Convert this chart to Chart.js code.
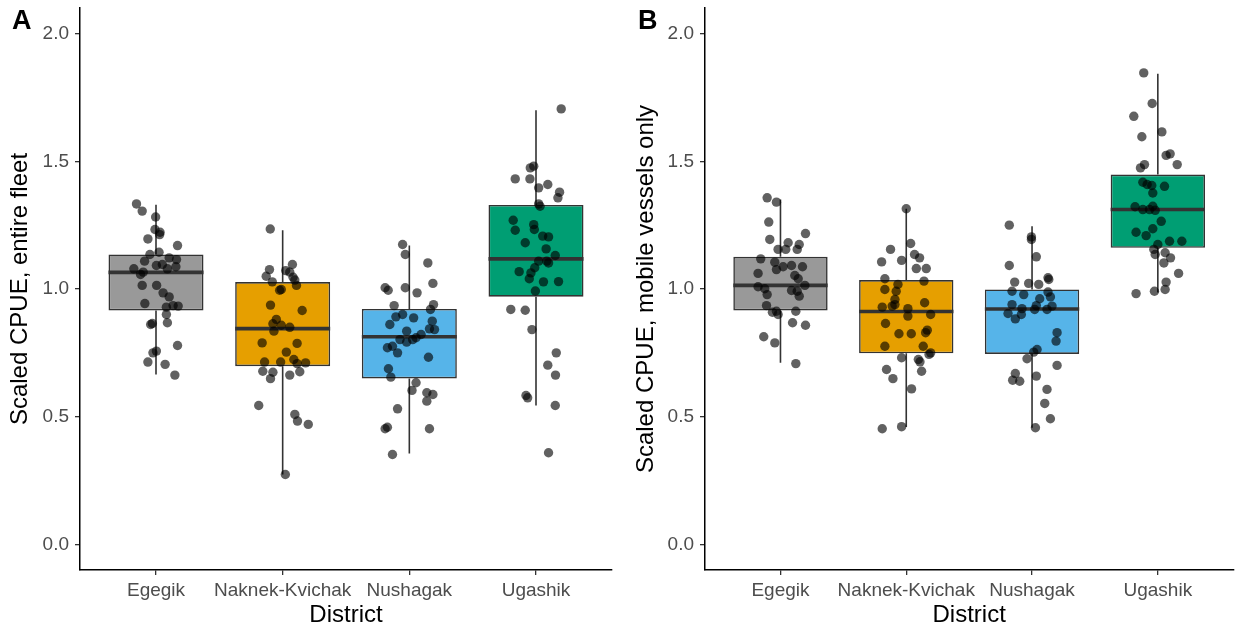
<!DOCTYPE html>
<html>
<head>
<meta charset="utf-8">
<script src="https://cdn.jsdelivr.net/npm/chart.js@4"></script>
<style>
  body { margin: 0; background: #fff; }
  .row { display: flex; width: 1238px; height: 632px; }
  #panelA { position: relative; width: 626px; height: 632px; }
  #panelB { position: relative; width: 612px; height: 632px; }
</style>
</head>
<body>
<div class="row">
  <div id="panelA"><canvas id="fleet"></canvas></div>
  <div id="panelB"><canvas id="mobile"></canvas></div>
</div>
<script>
const districts = ['Egegik', 'Naknek-Kvichak', 'Nushagak', 'Ugashik'];
const yTicks = [0, 0.5, 1.0, 1.5, 2.0];
const boxColors = ['#999999', '#E69F00', '#56B4E9', '#009E73'];

// box stats per district: [lower whisker, q1, median, q3, upper whisker]
const fleetStats = [
  [0.665, 0.916, 1.065, 1.135, 1.330],
  [0.274, 0.698, 0.845, 1.027, 1.230],
  [0.356, 0.650, 0.813, 0.922, 1.170],
  [0.544, 0.970, 1.118, 1.329, 1.700]
];
const mobileStats = [
  [0.711, 0.916, 1.014, 1.126, 1.350],
  [0.460, 0.748, 0.912, 1.035, 1.314],
  [0.457, 0.746, 0.922, 0.998, 1.246],
  [0.986, 1.161, 1.311, 1.448, 1.843]
];

// scaled CPUE per vessel: [jitter offset, value]
const fleetEgegik = [[-0.154,1.333],[-0.109,1.305],[-0.003,1.282],[-0.008,1.233],[0.032,1.222],[0.029,1.213],[-0.064,1.196],[0.170,1.170],[-0.048,1.135],[0.024,1.144],[-0.090,1.109],[0.104,1.122],[0.162,1.115],[0.003,1.092],[0.050,1.096],[0.090,1.079],[0.157,1.087],[-0.175,1.079],[-0.122,1.057],[-0.101,1.066],[-0.109,1.014],[0.005,1.014],[0.056,0.985],[0.104,0.969],[-0.088,0.943],[0.082,0.929],[0.135,0.935],[0.175,0.933],[0.082,0.900],[-0.042,0.861],[-0.029,0.865],[0.090,0.868],[0.170,0.779],[-0.024,0.750],[0.003,0.757],[-0.064,0.714],[0.072,0.705],[0.149,0.663]];
const fleetNaknek = [[-0.098,1.235],[0.077,1.096],[-0.104,1.076],[0.024,1.072],[0.056,1.066],[-0.130,1.050],[0.082,1.046],[0.096,1.035],[-0.082,1.028],[0.109,1.014],[-0.011,0.998],[-0.024,0.995],[-0.096,0.937],[0.154,0.916],[-0.050,0.881],[-0.077,0.864],[-0.011,0.858],[0.056,0.850],[-0.069,0.835],[-0.162,0.789],[0.114,0.787],[0.029,0.753],[0.088,0.724],[-0.143,0.714],[-0.016,0.714],[0.114,0.708],[0.181,0.711],[-0.157,0.678],[-0.077,0.674],[0.135,0.676],[-0.096,0.649],[0.056,0.663],[-0.189,0.544],[0.096,0.509],[0.117,0.483],[0.202,0.470],[0.021,0.274]];
const fleetNushagak = [[-0.053,1.174],[-0.032,1.135],[0.146,1.102],[-0.191,1.005],[-0.167,0.995],[-0.032,1.005],[0.186,1.022],[0.061,0.985],[-0.120,0.935],[0.191,0.939],[0.167,0.920],[-0.053,0.900],[-0.106,0.891],[0.034,0.887],[0.181,0.874],[-0.154,0.861],[0.159,0.844],[0.199,0.841],[-0.021,0.835],[0.093,0.822],[-0.074,0.802],[-0.021,0.792],[0.026,0.802],[0.053,0.809],[-0.133,0.776],[-0.173,0.770],[-0.093,0.750],[0.151,0.733],[-0.165,0.688],[-0.146,0.655],[0.053,0.633],[0.021,0.603],[0.138,0.594],[0.186,0.587],[0.138,0.561],[-0.093,0.531],[-0.191,0.453],[-0.173,0.459],[0.159,0.453],[-0.133,0.352]];
const fleetUgashik = [[0.199,1.705],[-0.045,1.474],[-0.018,1.481],[-0.164,1.431],[-0.048,1.431],[0.021,1.396],[0.093,1.409],[0.186,1.379],[0.173,1.357],[0.021,1.333],[0.032,1.324],[-0.180,1.269],[-0.164,1.230],[-0.018,1.252],[-0.013,1.233],[0.053,1.207],[0.099,1.204],[-0.085,1.181],[0.080,1.157],[0.152,1.131],[0.021,1.109],[0.099,1.102],[0.085,1.109],[-0.010,1.083],[-0.133,1.068],[-0.040,1.063],[-0.053,1.040],[0.059,1.028],[0.178,1.029],[-0.005,0.992],[-0.199,0.920],[-0.085,0.917],[-0.032,0.841],[0.160,0.750],[0.093,0.702],[0.154,0.663],[-0.079,0.583],[-0.066,0.574],[0.152,0.544],[0.099,0.359]];

const mobileEgegik = [[-0.106,1.357],[-0.032,1.340],[-0.093,1.262],[0.199,1.217],[-0.085,1.194],[0.061,1.181],[0.149,1.174],[-0.019,1.155],[0.042,1.155],[0.133,1.155],[-0.157,1.118],[-0.045,1.105],[0.021,1.087],[0.088,1.092],[0.175,1.087],[-0.032,1.076],[-0.178,1.061],[0.114,1.053],[0.141,1.040],[0.194,1.014],[-0.178,1.009],[-0.125,1.001],[-0.106,0.978],[0.088,0.994],[0.133,0.991],[0.149,0.972],[-0.111,0.935],[-0.064,0.909],[-0.032,0.913],[-0.019,0.900],[0.122,0.913],[0.096,0.868],[0.199,0.858],[-0.133,0.813],[-0.045,0.789],[0.122,0.708]];
const mobileNaknek = [[0.000,1.314],[0.035,1.178],[-0.125,1.155],[0.066,1.135],[-0.196,1.106],[-0.037,1.112],[0.106,1.122],[0.080,1.080],[0.159,1.080],[-0.170,1.040],[-0.066,1.018],[0.141,1.031],[-0.170,0.998],[-0.080,0.991],[-0.090,0.959],[0.146,0.946],[-0.191,0.929],[-0.112,0.933],[-0.090,0.939],[0.013,0.923],[0.013,0.894],[0.194,0.900],[-0.165,0.865],[-0.058,0.825],[0.040,0.825],[0.154,0.829],[0.167,0.839],[-0.170,0.776],[0.135,0.776],[0.194,0.750],[0.181,0.744],[-0.037,0.731],[0.096,0.724],[0.109,0.715],[-0.157,0.685],[0.122,0.678],[-0.106,0.649],[0.042,0.609],[-0.191,0.453],[-0.037,0.461]];
const mobileNushagak = [[-0.181,1.250],[-0.005,1.204],[-0.005,1.194],[0.034,1.126],[-0.181,1.092],[0.127,1.044],[0.133,1.037],[-0.138,1.027],[-0.027,1.022],[0.053,1.018],[-0.159,0.991],[-0.066,0.978],[0.127,0.988],[0.061,0.962],[0.146,0.969],[-0.159,0.939],[0.034,0.935],[0.159,0.933],[-0.080,0.923],[0.119,0.920],[0.021,0.920],[-0.191,0.904],[-0.085,0.900],[-0.133,0.883],[0.199,0.829],[0.191,0.796],[0.040,0.763],[0.013,0.753],[-0.040,0.727],[0.199,0.701],[-0.133,0.669],[-0.154,0.643],[-0.098,0.639],[0.034,0.659],[0.119,0.607],[0.101,0.552],[0.146,0.492],[0.027,0.457]];
const mobileUgashik = [[-0.112,1.846],[-0.045,1.726],[-0.191,1.676],[0.032,1.615],[-0.127,1.596],[0.066,1.523],[0.098,1.529],[0.154,1.487],[-0.138,1.474],[-0.106,1.487],[-0.119,1.418],[-0.085,1.409],[-0.048,1.405],[0.053,1.402],[-0.040,1.376],[-0.181,1.322],[-0.119,1.311],[-0.040,1.324],[-0.021,1.308],[-0.066,1.311],[0.027,1.265],[-0.040,1.236],[-0.173,1.222],[-0.093,1.209],[0.093,1.187],[0.191,1.187],[0.000,1.174],[-0.032,1.155],[0.058,1.142],[-0.021,1.135],[0.101,1.122],[0.048,1.102],[0.165,1.061],[0.066,1.027],[0.058,0.998],[-0.027,0.991],[-0.173,0.982]];

const fontFamily = '"Liberation Sans", Arial, Helvetica, sans-serif';

// whiskers under the boxes, medians on top of them (before the points)
const boxPlotLines = {
  id: 'boxPlotLines',
  beforeDatasetsDraw(chart) {
    const stats = chart.options.plugins.boxPlotLines.stats;
    const xs = chart.scales.x, ys = chart.scales.y;
    const ctx = chart.ctx;
    ctx.save();
    ctx.strokeStyle = '#333333';
    ctx.lineWidth = 1.6;
    stats.forEach((s, i) => {
      const x = xs.getPixelForValue(i + 1);
      ctx.beginPath();
      ctx.moveTo(x, ys.getPixelForValue(s[0]));
      ctx.lineTo(x, ys.getPixelForValue(s[1]));
      ctx.moveTo(x, ys.getPixelForValue(s[3]));
      ctx.lineTo(x, ys.getPixelForValue(s[4]));
      ctx.stroke();
    });
    ctx.restore();
  },
  afterDatasetDraw(chart, args) {
    if (args.meta.type !== 'bar') return;
    const stats = chart.options.plugins.boxPlotLines.stats;
    const ys = chart.scales.y;
    const ctx = chart.ctx;
    ctx.save();
    ctx.strokeStyle = '#333333';
    ctx.lineWidth = 3.6;
    args.meta.data.forEach((bar, i) => {
      const y = ys.getPixelForValue(stats[i][2]);
      ctx.beginPath();
      ctx.moveTo(bar.x - bar.width / 2, y);
      ctx.lineTo(bar.x + bar.width / 2, y);
      ctx.stroke();
    });
    ctx.restore();
  },
  afterDraw(chart) {
    const ctx = chart.ctx;
    ctx.save();
    ctx.font = 'bold 27px ' + fontFamily;
    ctx.fillStyle = '#000';
    ctx.textBaseline = 'alphabetic';
    ctx.fillText(chart.options.plugins.boxPlotLines.tag, 12, 29);
    ctx.restore();
  }
};

function noEdgePadding(scale) {
  scale.paddingTop = 0;
  scale.paddingBottom = 0;
  scale.paddingLeft = 0;
  scale.paddingRight = 0;
}

function makePanel(canvasId, tag, yTitle, stats, groups, axisWidth, rightPad) {
  const points = [];
  groups.forEach((g, i) => g.forEach(p => points.push({ x: i + 1 + p[0], y: p[1] })));

  const axisTicks = {
    display: true,
    offset: false,
    drawOnChartArea: false,
    drawTicks: true,
    tickLength: 5,
    color: '#333333',
    lineWidth: 1.3
  };

  new Chart(document.getElementById(canvasId), {
    type: 'bar',
    data: {
      datasets: [
        {
          type: 'scatter',
          order: 0,
          data: points,
          pointRadius: 4.7,
          pointHoverRadius: 4.7,
          pointBorderWidth: 0,
          pointBackgroundColor: 'rgba(0,0,0,0.62)',
          backgroundColor: 'rgba(0,0,0,0.62)'
        },
        {
          type: 'bar',
          order: 1,
          data: stats.map((s, i) => ({ x: i + 1, y: [s[1], s[3]] })),
          backgroundColor: boxColors,
          borderColor: '#333333',
          borderWidth: 1.6,
          borderSkipped: false,
          barPercentage: 0.75,
          categoryPercentage: 1.0
        }
      ]
    },
    options: {
      responsive: true,
      maintainAspectRatio: false,
      animation: false,
      events: [],
      layout: { padding: { left: 0, top: 8, right: rightPad, bottom: 0 } },
      plugins: {
        legend: { display: false },
        tooltip: { enabled: false },
        boxPlotLines: { stats: stats, tag: tag }
      },
      scales: {
        x: {
          type: 'linear',
          offset: false,
          min: 0.4,
          max: 4.6,
          afterBuildTicks: scale => { scale.ticks = districts.map((d, i) => ({ value: i + 1 })); },
          afterFit: scale => { scale.height = 62; noEdgePadding(scale); },
          ticks: {
            callback: v => districts[v - 1],
            color: '#4D4D4D',
            font: { family: fontFamily, size: 19 },
            padding: 4,
            maxRotation: 0,
            autoSkip: false
          },
          grid: axisTicks,
          border: { display: true, color: '#000', width: 1.5 },
          title: {
            display: true,
            text: 'District',
            color: '#000',
            font: { family: fontFamily, size: 24 },
            padding: { top: 0, bottom: 2 }
          }
        },
        y: {
          type: 'linear',
          min: -0.1,
          max: 2.1,
          afterBuildTicks: scale => { scale.ticks = yTicks.map(v => ({ value: v })); },
          afterFit: scale => { scale.width = axisWidth; noEdgePadding(scale); },
          ticks: {
            callback: v => v.toFixed(1),
            color: '#4D4D4D',
            font: { family: fontFamily, size: 19 },
            padding: 6
          },
          grid: axisTicks,
          border: { display: true, color: '#000', width: 1.5 },
          title: {
            display: true,
            text: yTitle,
            color: '#000',
            font: { family: fontFamily, size: 24 },
            padding: { top: 6, bottom: 0 }
          }
        }
      }
    },
    plugins: [boxPlotLines]
  });
}

makePanel('fleet', 'A', 'Scaled CPUE, entire fleet', fleetStats,
  [fleetEgegik, fleetNaknek, fleetNushagak, fleetUgashik], 80, 14);
makePanel('mobile', 'B', 'Scaled CPUE, mobile vessels only', mobileStats,
  [mobileEgegik, mobileNaknek, mobileNushagak, mobileUgashik], 79, 2);
</script>
</body>
</html>
